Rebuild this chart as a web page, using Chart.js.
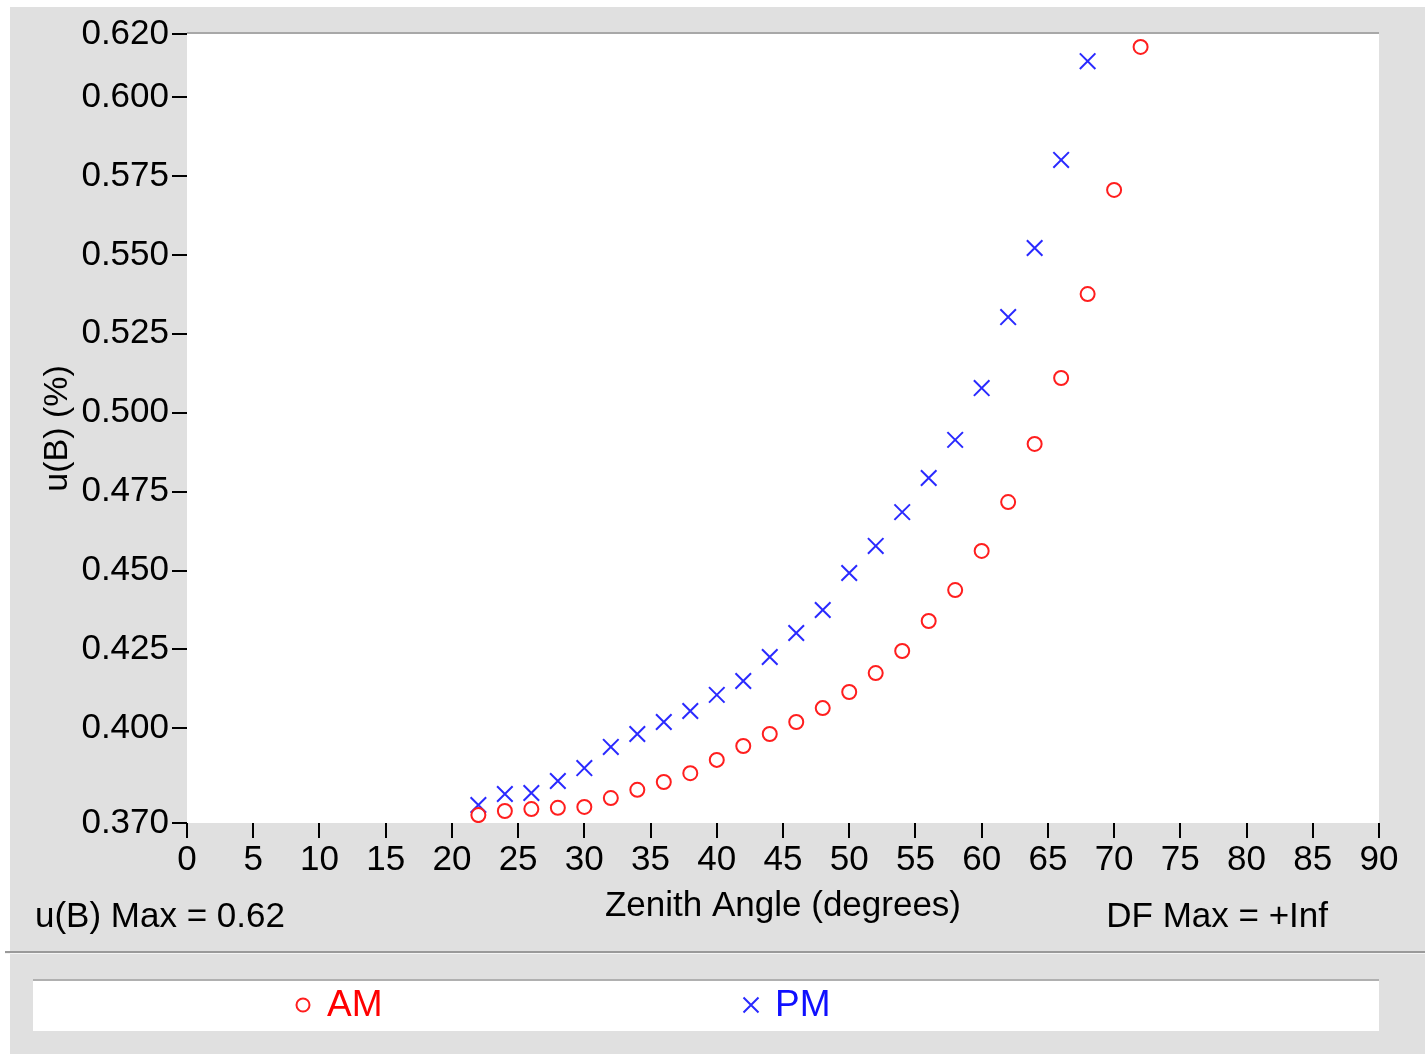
<!DOCTYPE html>
<html>
<head>
<meta charset="utf-8">
<script src="https://cdn.jsdelivr.net/npm/chart.js@4.4.0/dist/chart.umd.min.js"></script>
<style>
html,body{margin:0;padding:0;background:#fff;}
canvas{display:block;}
</style>
</head>
<body>
<canvas id="c" width="1425" height="1054"></canvas>
<script>
// ---- data ----
const amAngles = [22,24,26,28,30,32,34,36,38,40,42,44,46,48,50,52,54,56,58,60,62,64,66,68,70,72];
const amValues = [0.3725,0.3738,0.3744,0.3748,0.3751,0.3779,0.3805,0.3830,0.3858,0.3900,0.3944,0.3982,0.4020,0.4064,0.4115,0.4175,0.4245,0.4340,0.4438,0.4562,0.4717,0.4901,0.5110,0.5376,0.5706,0.6159];
const pmAngles = [22,24,26,28,30,32,34,36,38,40,42,44,46,48,50,52,54,56,58,60,62,64,66,68];
const pmValues = [0.3757,0.3792,0.3795,0.3833,0.3874,0.3941,0.3982,0.4020,0.4055,0.4106,0.4150,0.4226,0.4302,0.4375,0.4492,0.4578,0.4685,0.4793,0.4914,0.5078,0.5303,0.5522,0.5801,0.6114];
const yTickValues = [0.370,0.400,0.425,0.450,0.475,0.500,0.525,0.550,0.575,0.600,0.620];
const xTickStep = 5;
const seriesLabels = ['AM','PM'];
const yTitle = 'u(B) (%)';
const xTitle = 'Zenith Angle (degrees)';
const noteLeft = 'u(B) Max = 0.62';
const noteRight = 'DF Max = +Inf';

const FONT = '"Liberation Sans", Arial, sans-serif';
const RED = '#ff1e1e';
const BLUE = '#2a2aff';

const toPts = (xs, ys) => xs.map((x, i) => ({x: x, y: ys[i]}));

const backgroundPlugin = {
  id: 'bg',
  beforeDraw(chart) {
    const ctx = chart.ctx;
    const a = chart.chartArea;
    ctx.save();
    ctx.fillStyle = '#ffffff';
    ctx.fillRect(0, 0, chart.width, chart.height);
    ctx.fillStyle = '#e0e0e0';
    ctx.fillRect(10, 7, chart.width - 10, chart.height - 7);
    // plot area
    ctx.fillStyle = '#ffffff';
    ctx.fillRect(a.left, a.top, a.right - a.left, a.bottom - a.top);
    ctx.fillStyle = '#a8a8a8';
    ctx.fillRect(a.left, a.top - 2, a.right - a.left, 2);
    // separator
    ctx.fillStyle = '#9a9a9a';
    ctx.fillRect(5, 951, chart.width - 5, 2);
    ctx.fillStyle = '#f4f4f4';
    ctx.fillRect(5, 953, chart.width - 5, 1);
    // legend box
    ctx.fillStyle = '#ffffff';
    ctx.fillRect(33, 981, 1379 - 33, 50);
    ctx.fillStyle = '#b0b0b0';
    ctx.fillRect(33, 979, 1379 - 33, 2);
    ctx.restore();
  },
  afterDraw(chart) {
    const ctx = chart.ctx;
    ctx.save();
    ctx.fillStyle = '#000';
    ctx.font = '35px ' + FONT;
    ctx.textBaseline = 'middle';
    ctx.textAlign = 'left';
    ctx.fillText(noteLeft, 35, 917);
    ctx.textAlign = 'right';
    ctx.fillText(noteRight, 1328, 917);
    // legend
    const items = [
      {ds: chart.data.datasets[0], mx: 303, tx: 327},
      {ds: chart.data.datasets[1], mx: 751, tx: 775}
    ];
    const cy = 1005;
    items.forEach(it => {
      const ds = it.ds;
      ctx.strokeStyle = ds.borderColor;
      ctx.lineWidth = 2;
      ctx.beginPath();
      if (ds.pointStyle === 'circle') {
        ctx.arc(it.mx, cy, 6.5, 0, Math.PI * 2);
      } else {
        const h = 7.5;
        ctx.moveTo(it.mx - h, cy - h); ctx.lineTo(it.mx + h, cy + h);
        ctx.moveTo(it.mx - h, cy + h); ctx.lineTo(it.mx + h, cy - h);
      }
      ctx.stroke();
      ctx.fillStyle = ds.labelColor;
      ctx.font = '37px ' + FONT;
      ctx.textAlign = 'left';
      ctx.textBaseline = 'middle';
      ctx.fillText(ds.label, it.tx, cy + 1);
    });
    ctx.restore();
  }
};

new Chart(document.getElementById('c'), {
  type: 'scatter',
  data: {
    datasets: [
      {
        label: seriesLabels[0],
        data: toPts(amAngles, amValues),
        pointStyle: 'circle',
        pointRadius: 7,
        pointHoverRadius: 7,
        borderColor: RED,
        backgroundColor: 'rgba(0,0,0,0)',
        pointBorderWidth: 2,
        labelColor: '#ff0000'
      },
      {
        label: seriesLabels[1],
        data: toPts(pmAngles, pmValues),
        pointStyle: 'crossRot',
        pointRadius: 11,
        pointHoverRadius: 11,
        borderColor: BLUE,
        backgroundColor: 'rgba(0,0,0,0)',
        pointBorderWidth: 2,
        labelColor: '#1010ff'
      }
    ]
  },
  options: {
    responsive: false,
    animation: false,
    events: [],
    layout: { padding: { left: 0, top: 34, right: 46, bottom: 123 } },
    plugins: { legend: { display: false }, tooltip: { enabled: false } },
    scales: {
      x: {
        type: 'linear',
        min: 0, max: 90,
        border: { display: false },
        grid: { drawOnChartArea: false, drawTicks: true, tickLength: 15, color: '#000', lineWidth: 2 },
        ticks: { stepSize: xTickStep, color: '#000', font: { family: FONT, size: 35, lineHeight: 1 }, padding: 5, maxRotation: 0, autoSkip: false },
        title: { display: true, text: xTitle, color: '#000', font: { family: FONT, size: 35, lineHeight: 1.2 }, padding: { top: 4, bottom: 4 } },
        afterFit(scale) { scale.height = 108; scale.paddingLeft = 0; scale.paddingRight = 0; }
      },
      y: {
        type: 'linear',
        min: 0.370, max: 0.620,
        border: { display: false },
        grid: { drawOnChartArea: false, drawTicks: true, tickLength: 15, color: '#000', lineWidth: 2 },
        ticks: {
          color: '#000', font: { family: FONT, size: 35, lineHeight: 1 }, padding: 3,
          callback: (v) => Number(v).toFixed(3)
        },
        afterBuildTicks(scale) { scale.ticks = yTickValues.map(v => ({ value: v })); },
        title: { display: true, text: yTitle, color: '#000', font: { family: FONT, size: 34, lineHeight: 1.2 }, padding: { top: 37, bottom: 0 } },
        afterFit(scale) { scale.width = 187; scale.paddingTop = 0; scale.paddingBottom = 0; }
      }
    }
  },
  plugins: [backgroundPlugin]
});
</script>
</body>
</html>
